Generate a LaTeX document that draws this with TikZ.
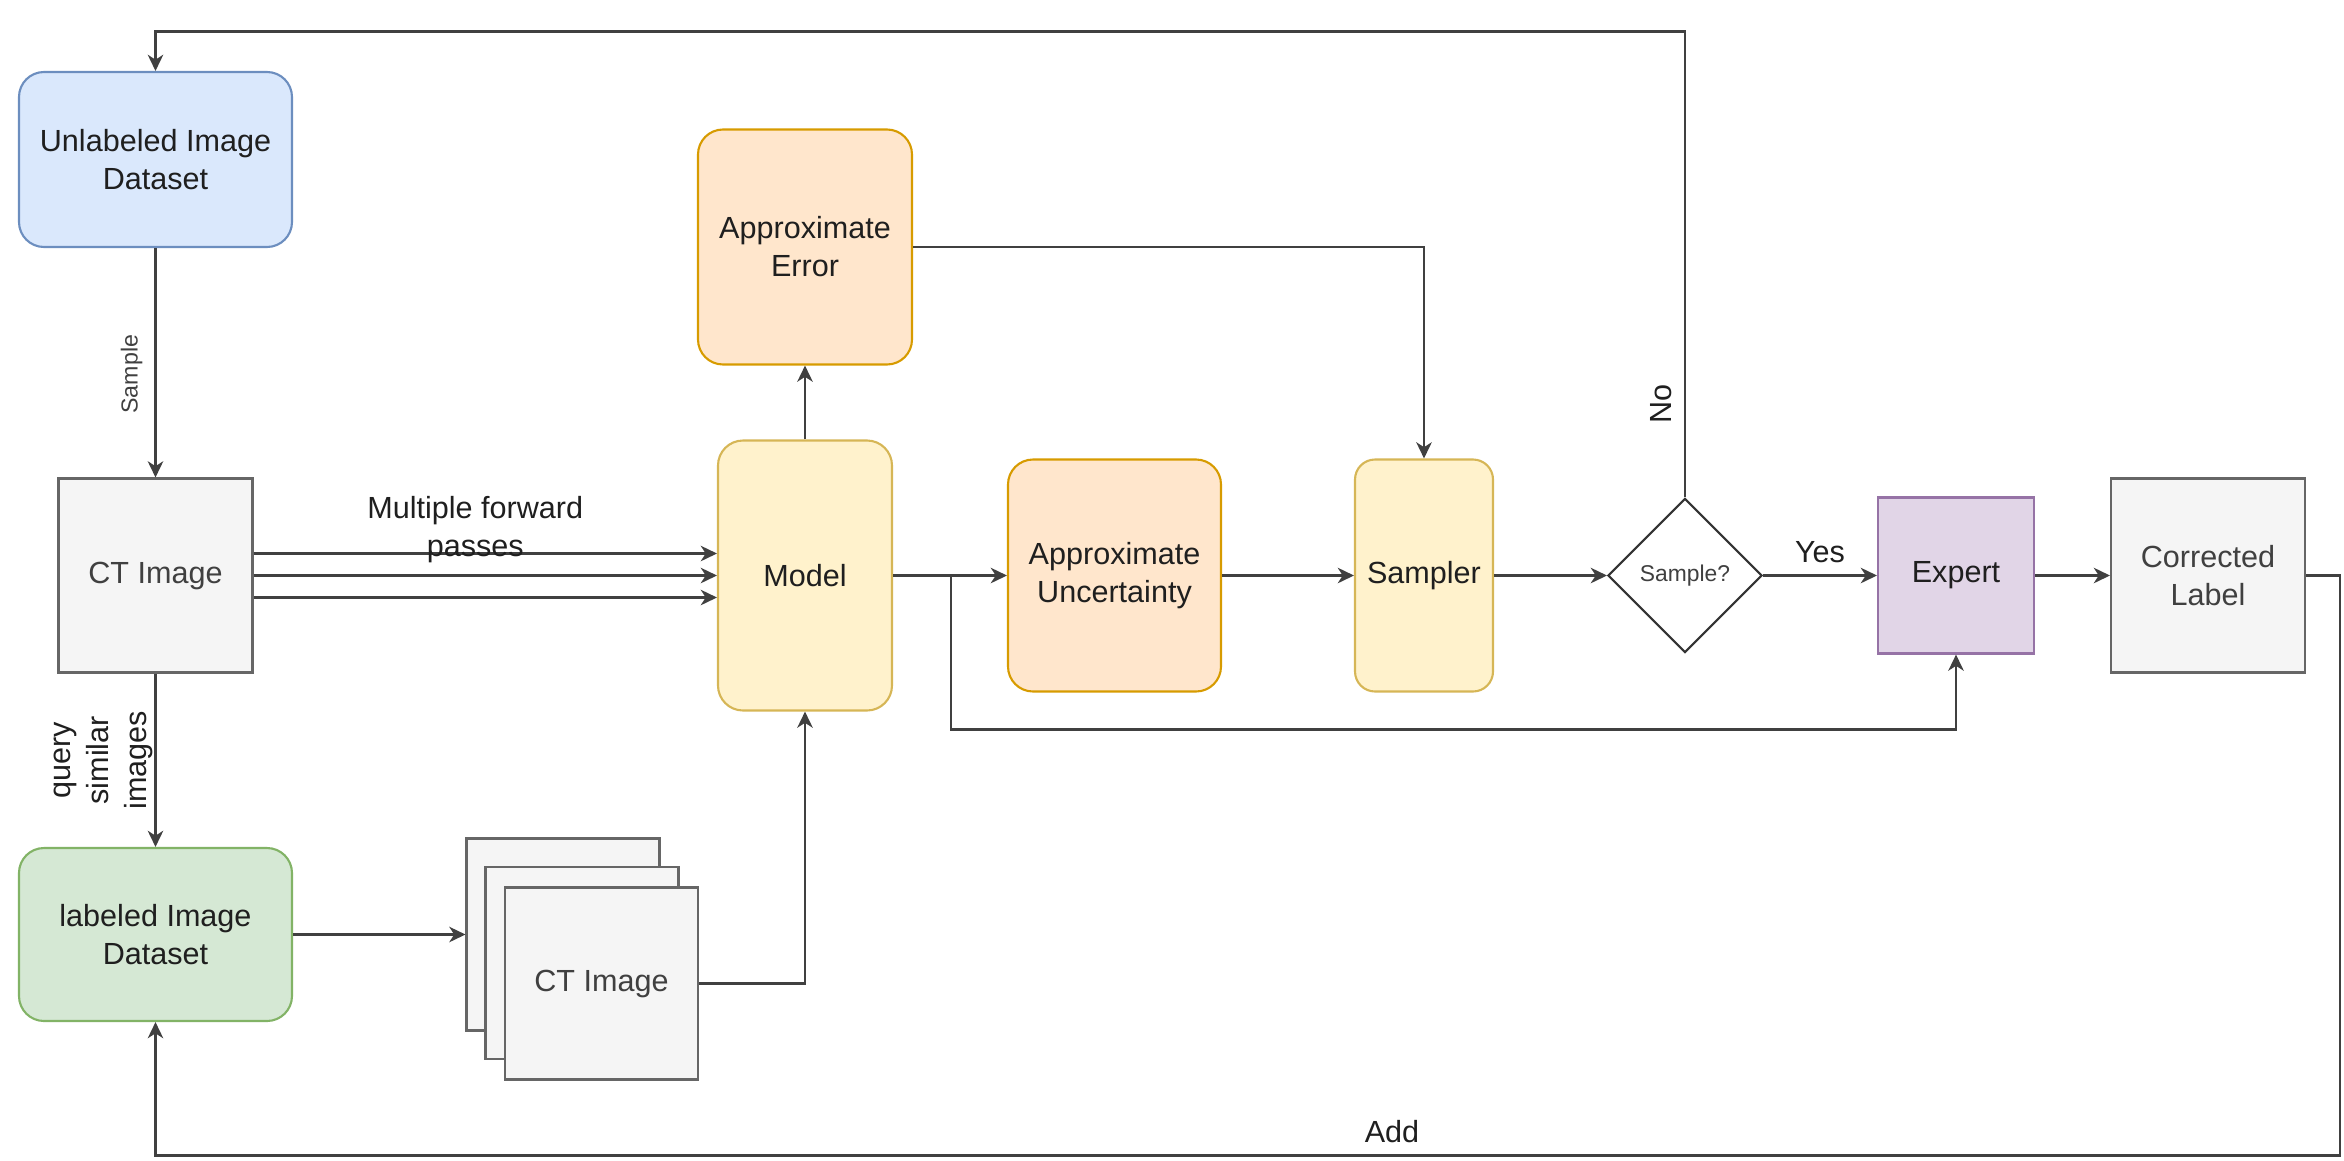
\documentclass[tikz,border=0pt]{standalone}
\usepackage{fontspec}
\setmainfont{Liberation Sans}
\usepackage{xcolor}
\usepackage{tikz}
\usetikzlibrary{shapes.geometric, arrows, arrows.meta}
\definecolor{bluefill}{HTML}{DAE8FC}
\definecolor{blueline}{HTML}{6C8EBF}
\definecolor{greenfill}{HTML}{D5E8D4}
\definecolor{greenline}{HTML}{82B366}
\definecolor{yellowfill}{HTML}{FFF2CC}
\definecolor{yellowline}{HTML}{D6B656}
\definecolor{orangefill}{HTML}{FFE6CC}
\definecolor{orangeline}{HTML}{D79B00}
\definecolor{purplefill}{HTML}{E1D5E7}
\definecolor{purpleline}{HTML}{9673A6}
\definecolor{grayfill}{HTML}{F5F5F5}
\definecolor{grayline}{HTML}{666666}
\tikzstyle{block} = [rectangle, inner sep=0pt, align=center, line width=0.6pt, text=black!88]
\tikzstyle{roundblock} = [block, rounded corners=0.25cm]
\tikzstyle{unlbox} = [roundblock, minimum width=2.73cm, minimum height=1.75cm, fill=bluefill, draw=blueline]
\tikzstyle{labbox} = [roundblock, minimum width=2.73cm, minimum height=1.73cm, fill=greenfill, draw=greenline]
\tikzstyle{yellowbox} = [roundblock, fill=yellowfill, draw=yellowline]
\tikzstyle{orangebox} = [roundblock, fill=orangefill, draw=orangeline]
\tikzstyle{expbox} = [block, minimum width=1.56cm, minimum height=1.56cm, fill=purplefill, draw=purpleline]
\tikzstyle{graybox} = [block, minimum width=1.94cm, minimum height=1.94cm, fill=grayfill, draw=grayline, text=black!75]
\tikzstyle{choix} = [diamond, aspect=1, minimum width=1.54cm, minimum height=1.54cm, inner sep=0pt, draw=black!80, fill=white, line width=0.6pt, text=black!75, font=\fontsize{6.5pt}{7.5pt}\selectfont]
\tikzstyle{arrow} = [->, >={Stealth[length=4.6pt, width=4.4pt, inset=1.4pt]}, line width=0.7pt, black!75]
\tikzstyle{small} = [font=\fontsize{6.6pt}{8pt}\selectfont]

\begin{document}
\begin{tikzpicture}[node distance=3cm, every node/.style={font=\fontsize{8.7pt}{10.8pt}\selectfont}]
        \useasboundingbox (-1.555,1.595) rectangle (21.885,-10.005);
        \node (unl) [unlbox] {Unlabeled Image\\Dataset};
        \node (ct) [graybox, below of=unl, yshift=-1.16cm] {CT Image};
        \node (lab) [labbox, below of=ct, yshift=-0.59cm] {labeled Image\\Dataset};
        \node (model) [yellowbox, minimum width=1.74cm, minimum height=2.7cm, right of=ct, xshift=3.495cm] {Model};
        \node (err) [orangebox, minimum width=2.14cm, minimum height=2.35cm, above of=model, yshift=0.285cm] {Approximate\\Error};
        \node (unc) [orangebox, minimum width=2.13cm, minimum height=2.32cm, right of=model, xshift=0.095cm] {Approximate\\Uncertainty};
        \node (smp) [yellowbox, rounded corners=0.2cm, minimum width=1.38cm, minimum height=2.32cm, right of=unc, xshift=0.095cm] {Sampler};
        \node (dec) [choix, right of=smp, xshift=-0.39cm] {Sample?};
        \node (exp) [expbox, right of=dec, xshift=-0.29cm] {Expert};
        \node (cor) [graybox, right of=exp, xshift=-0.48cm] {Corrected\\Label};
        \node (stk3) [graybox, minimum width=1.93cm, minimum height=1.92cm, right of=lab, xshift=1.075cm] {};
        \node (stk2) [graybox, minimum width=1.93cm, minimum height=1.92cm, right of=lab, xshift=1.265cm, yshift=-0.285cm] {};
        \node (stk1) [graybox, minimum width=1.93cm, minimum height=1.92cm, right of=lab, xshift=1.46cm, yshift=-0.49cm] {CT Image};

        \draw [arrow] (unl) -- node[small, pos=0.55, rotate=90, anchor=south] {Sample} (ct);
        \draw [arrow] (ct) -- node[rotate=90, anchor=south, align=center, inner sep=0.5pt, text=black!88] {query\\similar\\images} (lab);
        \draw [arrow] ([yshift=0.22cm]ct.east) -- node[xshift=-0.1cm, yshift=0.24cm, align=center, text=black!88] {Multiple forward\\passes} ([yshift=0.22cm]model.west);
        \draw [arrow] (ct.east) -- (model.west);
        \draw [arrow] ([yshift=-0.22cm]ct.east) -- ([yshift=-0.22cm]model.west);
        \draw [arrow] (model) -- (err);
        \draw [arrow] (err.east) -| (smp.north);
        \draw [arrow] (model) -- (unc);
        \draw [arrow] (model.east) -- ++(0.58,0) -- ++(0,-1.54) -| (exp.south);
        \draw [arrow] (unc) -- (smp);
        \draw [arrow] (smp) -- (dec);
        \draw [arrow] (dec) -- node[anchor=south, text=black!88] {Yes} (exp);
        \draw [arrow] (exp) -- (cor);
        \draw [arrow] (dec.north) -- node[pos=0.2, rotate=90, anchor=south, text=black!88] {No} ++(0,4.66) -| (unl.north);
        \draw [arrow] (lab) -- (stk3);
        \draw [arrow] (stk1.east) -| (model.south);
        \draw [arrow] (cor.east) -- ++(0.34,0) -- ++(0,-5.80) -| node[pos=0.217, anchor=south, text=black!88] {Add} (lab.south);
    \end{tikzpicture}
\end{document}
